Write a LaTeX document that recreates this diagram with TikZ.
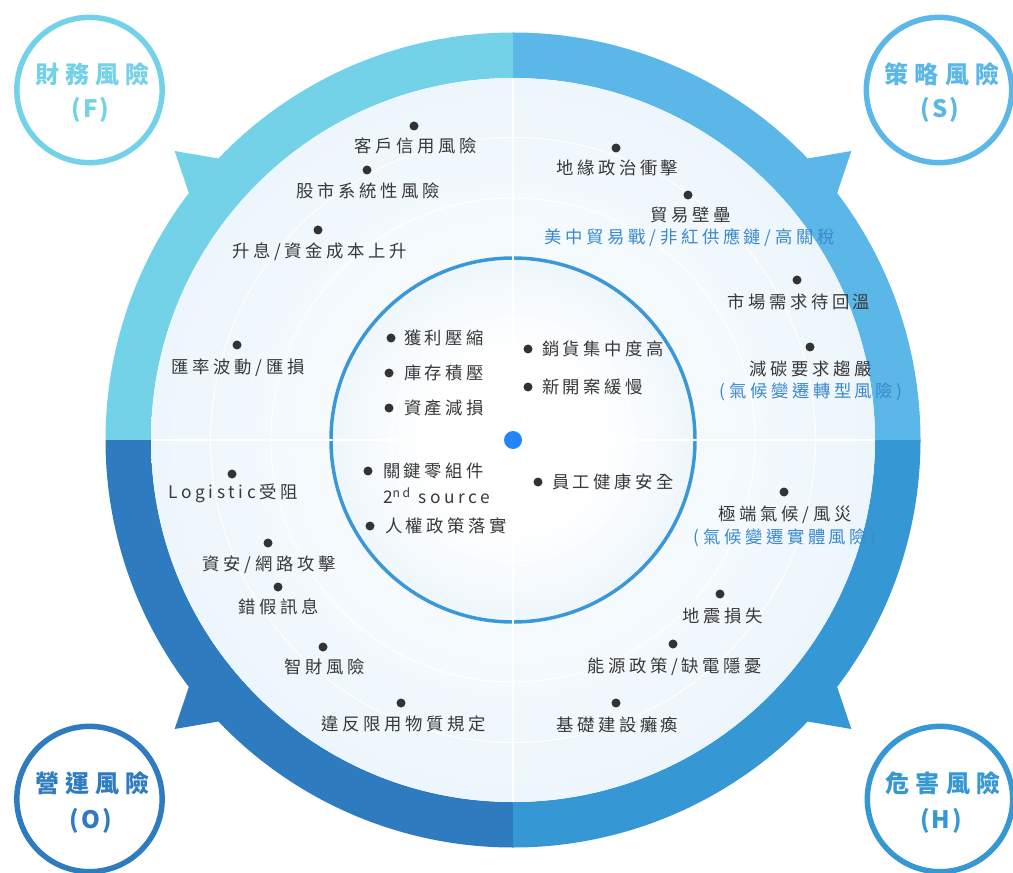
\documentclass[tikz,border=0pt]{standalone}
\usepackage{fontspec}
\setmainfont{Noto Sans CJK TC}
\newfontfamily\itemfont{Noto Sans CJK TC}[LetterSpace=21]
\newfontfamily\labfont{Noto Sans CJK TC}[LetterSpace=26]
\newfontfamily\labfontb{Noto Sans CJK TC}[LetterSpace=9]
\definecolor{cF}{HTML}{74D2E8}
\definecolor{cS}{HTML}{5AB7E8}
\definecolor{cO}{HTML}{2F7BC0}
\definecolor{cH}{HTML}{3597D3}
\definecolor{ringc}{HTML}{3A98D8}
\definecolor{txt}{HTML}{383838}
\definecolor{dotgray}{HTML}{333333}
\definecolor{subtxt}{HTML}{3B89CC}
\definecolor{cdot}{HTML}{2186F4}
\definecolor{diskA}{HTML}{EDF6FC}
\definecolor{diskB}{HTML}{CFE7F6}
\definecolor{innerB}{HTML}{CFE6F5}
\pgfdeclareradialshading{outerdisk}{\pgfpoint{0bp}{0bp}}{color(0bp)=(white); color(25bp)=(diskA); color(50bp)=(diskB)}
\pgfdeclareradialshading{innerdisk}{\pgfpoint{0bp}{0bp}}{color(0bp)=(white); color(12bp)=(white); color(50bp)=(innerB)}
\begin{document}
\begin{tikzpicture}[x=0.75pt,y=-0.75pt,
  itm/.style={font=\itemfont\fontsize{13pt}{15pt}\selectfont, text=txt, inner sep=0pt, xshift=1.3pt},
  itmw/.style={itm, anchor=west, xshift=0pt},
  sub/.style={itm, text=subtxt},
  dotn/.style={circle, fill=dotgray, inner sep=0pt, minimum size=6.75pt},
  lblcirc/.style={circle, draw=#1, line width=4.1pt, fill=white, minimum size=109pt, inner sep=0pt},
  lbltxt/.style={font=\labfont\bfseries\fontsize{18pt}{20pt}\selectfont, text=#1, inner sep=0pt, xshift=2.3pt},
  lblcode/.style={font=\labfontb\bfseries\fontsize{18pt}{20pt}\selectfont, text=#1, inner sep=0pt, xshift=0.8pt},
  thinring/.style={draw=white, line width=0.8pt}]
\useasboundingbox (0,0) rectangle (1013,873);
\begin{scope}[shift={(513,440)}]
  % quadrant bands with teeth
  \fill[cF] (-90:407.5) arc[start angle=-90,end angle=-136.3,radius=407.5] -- (-139.5:445) -- (-142.7:407.5) arc[start angle=-142.7,end angle=-180,radius=407.5] -- (-180:362) arc[start angle=-180,end angle=-90,radius=362] -- cycle;
  \fill[cS] (0:407.5) arc[start angle=0,end angle=-37.3,radius=407.5] -- (-40.5:445) -- (-43.7:407.5) arc[start angle=-43.7,end angle=-90,radius=407.5] -- (-90:362) arc[start angle=-90,end angle=0,radius=362] -- cycle;
  \fill[cO] (-180:407.5) arc[start angle=-180,end angle=-217.3,radius=407.5] -- (-220.5:445) -- (-223.7:407.5) arc[start angle=-223.7,end angle=-270,radius=407.5] -- (-270:362) arc[start angle=-270,end angle=-180,radius=362] -- cycle;
  \fill[cH] (-270:407.5) arc[start angle=-270,end angle=-316.3,radius=407.5] -- (-319.5:445) -- (-322.7:407.5) arc[start angle=-322.7,end angle=-360,radius=407.5] -- (-360:362) arc[start angle=-360,end angle=-270,radius=362] -- cycle;
  % disk
  \shade[shading=outerdisk] (0,0) circle (362);
  \draw[thinring] (0,0) circle (302.5) (0,0) circle (242);
  \shade[shading=innerdisk] (0,0) circle (182);
  \draw[thinring] (0,0) circle (121) (0,0) circle (60.5);
  \draw[draw=ringc, line width=2.6pt] (0,0) circle (182);
  \draw[white, line width=0.9pt] (-362,0) -- (362,0) (0,-362) -- (0,362);
  \node[circle, fill=cdot, inner sep=0pt, minimum size=13.5pt] (ctr) at (0,0) {};
\end{scope}
% category labels
\node[lblcirc=cF] (lF) at (89.5,90) {};
\node[lbltxt=cF] (lFa) at (89.5,74) {財務風險};
\node[lblcode=cF] (lFb) at (89.5,110) {(F)};
\node[lblcirc=cS] (lS) at (939,90) {};
\node[lbltxt=cS] (lSa) at (939,74) {策略風險};
\node[lblcode=cS] (lSb) at (939,110) {(S)};
\node[lblcirc=cO] (lO) at (89.5,799) {};
\node[lbltxt=cO] (lOa) at (89.5,783) {營運風險};
\node[lblcode=cO] (lOb) at (89.5,821) {(O)};
\node[lblcirc=cH] (lH) at (940,799) {};
\node[lbltxt=cH] (lHa) at (940,783) {危害風險};
\node[lblcode=cH] (lHb) at (940,821) {(H)};
% outer F
\node[dotn] (f1d) at (414,126) {}; \node[itm] (f1) at (414,146) {客戶信用風險};
\node[dotn] (f2d) at (367,170) {}; \node[itm] (f2) at (366.5,191) {股市系統性風險};
\node[dotn] (f3d) at (318,230) {}; \node[itm] (f3) at (318,252) {升息/資金成本上升};
\node[dotn] (f4d) at (237,345) {}; \node[itm] (f4) at (236.5,368) {匯率波動/匯損};
% inner F
\node[dotn] (f5d) at (391,338) {}; \node[itmw] (f5) at (402,338) {獲利壓縮};
\node[dotn] (f6d) at (389,373) {}; \node[itmw] (f6) at (402,373) {庫存積壓};
\node[dotn] (f7d) at (389,408) {}; \node[itmw] (f7) at (402,408) {資產減損};
% inner S
\node[dotn] (s5d) at (528,349) {}; \node[itmw] (s5) at (540,349) {銷貨集中度高};
\node[dotn] (s6d) at (528,387) {}; \node[itmw] (s6) at (540,387) {新開案緩慢};
% inner O
\node[dotn] (o6d) at (368,471) {}; \node[itmw] (o6) at (381,471) {關鍵零組件};
\node[itmw] (o6b) at (381,496) {2\textsuperscript{nd} source};
\node[dotn] (o7d) at (370,526) {}; \node[itmw] (o7) at (383,526) {人權政策落實};
% inner H
\node[dotn] (h5d) at (538,482) {}; \node[itmw] (h5) at (550,482) {員工健康安全};
% outer S
\node[dotn] (s1d) at (616,148) {}; \node[itm] (s1) at (615.5,168) {地緣政治衝擊};
\node[dotn] (s2d) at (688,195) {}; \node[itm] (s2) at (688.5,215) {貿易壁壘};
\node[sub] (s2b) at (688,238) {美中貿易戰/非紅供應鏈/高關稅};
\node[dotn] (s3d) at (797,280) {}; \node[itm] (s3) at (797,302) {市場需求待回溫};
\node[dotn] (s4d) at (810,347) {}; \node[itm] (s4) at (809,369) {減碳要求趨嚴};
\node[sub] (s4b) at (809.5,392) {(氣候變遷轉型風險)};
% outer O
\node[dotn] (o1d) at (232,474) {}; \node[itm] (o1) at (231.5,493) {Logistic受阻};
\node[dotn] (o2d) at (268,543) {}; \node[itm] (o2) at (267.5,565) {資安/網路攻擊};
\node[dotn] (o3d) at (278,587) {}; \node[itm] (o3) at (277,607) {錯假訊息};
\node[dotn] (o4d) at (323,647) {}; \node[itm] (o4) at (323,667) {智財風險};
\node[dotn] (o5d) at (401,703) {}; \node[itm] (o5) at (402,724) {違反限用物質規定};
% outer H
\node[dotn] (h1d) at (784,492) {}; \node[itm] (h1) at (783.5,515) {極端氣候/風災};
\node[sub] (h1b) at (783.5,538) {(氣候變遷實體風險)};
\node[dotn] (h2d) at (720,594) {}; \node[itm] (h2) at (720.5,616) {地震損失};
\node[dotn] (h3d) at (673,644) {}; \node[itm] (h3) at (673,667) {能源政策/缺電隱憂};
\node[dotn] (h4d) at (616,703) {}; \node[itm] (h4) at (615.5,725) {基礎建設癱瘓};
\end{tikzpicture}
\end{document}
